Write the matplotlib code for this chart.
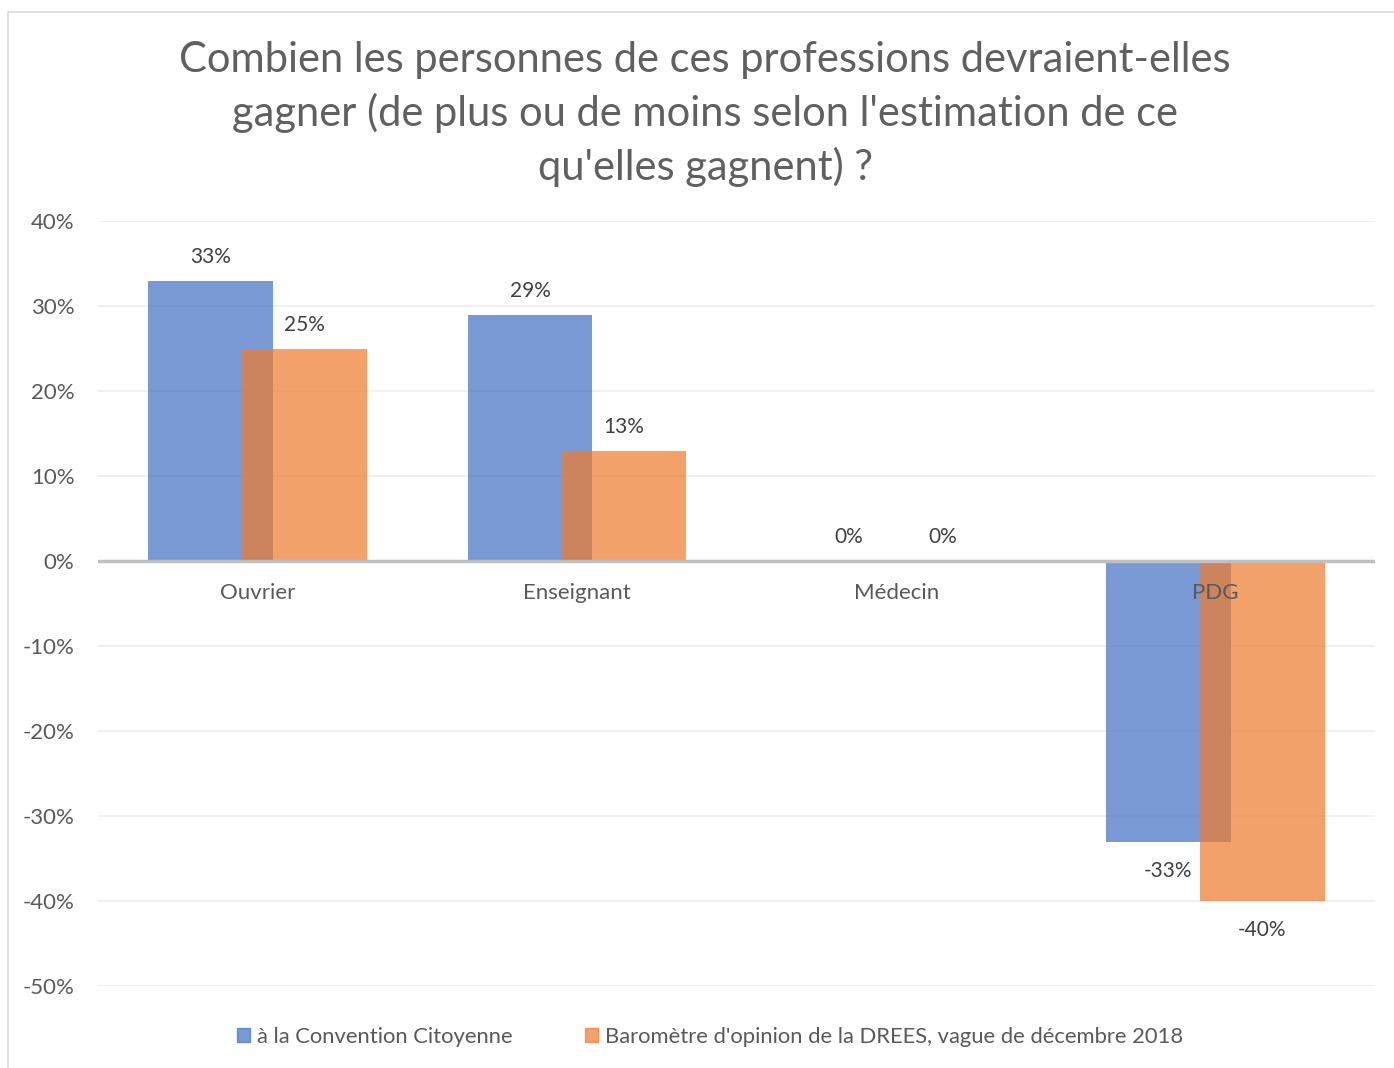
import numpy as np
import matplotlib.pyplot as plt
from matplotlib.patches import Rectangle

categories = ['Ouvrier', 'Enseignant', 'Médecin', 'PDG']
convention = [33, 29, 0, -33]
drees = [25, 13, 0, -40]
series_names = ['à la Convention Citoyenne',
                "Baromètre d'opinion de la DREES, vague de décembre 2018"]
yticks = [40, 30, 20, 10, 0, -10, -20, -30, -40, -50]

plt.rcParams['font.family'] = ['Lato', 'DejaVu Sans']
grey = '#595959'

fig = plt.figure(figsize=(13.94, 10.68), dpi=100)
W, H = 1394, 1068
ax = fig.add_axes([98 / W, 1 - 986 / H, (1375 - 98) / W, (986 - 221) / H])

# outer frame of the chart area
fig.patches.append(Rectangle((8 / W, -0.01), 1.2, 1 - 12 / H + 0.01, transform=fig.transFigure,
                             fill=False, edgecolor='#d9d9d9', linewidth=1.2))

x = np.arange(len(categories))
width = 0.39
off = 0.147
ax.bar(x - off, convention, width, color='#4472C4', alpha=0.72, zorder=2)
ax.bar(x + off, drees, width, color='#ED7D31', alpha=0.72, zorder=3)

for i in range(len(categories)):
    for xx, v in [(x[i] - off, convention[i]), (x[i] + off, drees[i])]:
        if v >= 0:
            ax.annotate('%d%%' % v, (xx, v), xytext=(0, 10), textcoords='offset points',
                        ha='center', va='bottom', fontsize=15, color='#404040')
        else:
            ax.annotate('%d%%' % v, (xx, v), xytext=(0, -14), textcoords='offset points',
                        ha='center', va='top', fontsize=15, color='#404040')
    ax.annotate(categories[i], (x[i], 0), xytext=(0, -16), textcoords='offset points',
                ha='center', va='top', fontsize=16, color=grey, zorder=5)

ax.set_xlim(-0.5, 3.5)
ax.set_ylim(-50, 40)
ax.set_yticks(yticks)
ax.set_yticklabels(['%d%%' % t for t in yticks], fontsize=16, color=grey)
ax.set_xticks([])
ax.tick_params(axis='y', length=0, pad=17)
for s in ax.spines.values():
    s.set_visible(False)
for t in yticks:
    if t != 0:
        ax.axhline(t, color='#eeeeee', linewidth=1.2, zorder=0)
ax.axhline(0, color='#bfbfbf', linewidth=2.5, zorder=4)

fig.text(705 / W, 1 - 114 / H,
         "Combien les personnes de ces professions devraient-elles\n"
         "gagner (de plus ou de moins selon l'estimation de ce\n"
         "qu'elles gagnent) ?",
         ha='center', va='center', fontsize=30, color='#606060', linespacing=1.42)

handles = [Rectangle((0, 0), 1, 1, color='#4472C4', alpha=0.72),
           Rectangle((0, 0), 1, 1, color='#ED7D31', alpha=0.72)]
fig.legend(handles, series_names, loc='center', bbox_to_anchor=(710 / W, 1 - 1037 / H),
           ncol=2, frameon=False, fontsize=15.8, handlelength=0.6, handleheight=0.6,
           handletextpad=0.3, columnspacing=3.3, labelcolor=grey)

fig.savefig('out.png', dpi=100)
